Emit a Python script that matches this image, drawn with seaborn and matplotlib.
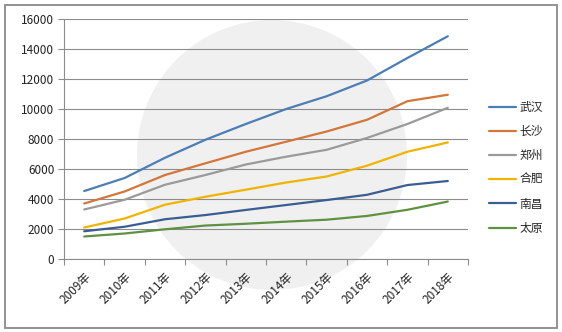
import matplotlib
matplotlib.use("Agg")
import matplotlib.pyplot as plt
import seaborn as sns
import pandas as pd
import numpy as np
from matplotlib.patches import Circle, Rectangle

years = ["2009年", "2010年", "2011年", "2012年", "2013年", "2014年", "2015年", "2016年", "2017年", "2018年"]
cities = ["武汉", "长沙", "郑州", "合肥", "南昌", "太原"]
wuhan = [4530, 5400, 6750, 7950, 9000, 10000, 10850, 11900, 13400, 14850]
changsha = [3700, 4500, 5600, 6380, 7150, 7820, 8500, 9280, 10520, 10950]
zhengzhou = [3300, 3950, 4950, 5600, 6300, 6820, 7280, 8070, 9000, 10080]
hefei = [2100, 2700, 3620, 4150, 4620, 5100, 5500, 6220, 7150, 7770]
nanchang = [1850, 2150, 2650, 2930, 3270, 3600, 3930, 4280, 4930, 5200]
taiyuan = [1500, 1700, 1980, 2230, 2350, 2490, 2620, 2870, 3280, 3830]
yticks = [0, 2000, 4000, 6000, 8000, 10000, 12000, 14000, 16000]

series = [wuhan, changsha, zhengzhou, hefei, nanchang, taiyuan]
colors = ["#4a7eb5", "#d4763a", "#9a9a9a", "#f0b400", "#3a5d92", "#5e9140"]

rows = []
for c, vals in zip(cities, series):
    for i, v in enumerate(vals):
        rows.append({"pos": i, "city": c, "value": v})
df = pd.DataFrame(rows)

sns.set_theme(style="white")
plt.rcParams["font.family"] = ["Noto Sans CJK SC", "DejaVu Sans"]

W, H = 562, 332
fig = plt.figure(figsize=(W / 100, H / 100), dpi=100)
fig.patch.set_facecolor("white")

# background layer: border and faint watermark disk (pixel coordinates)
bg = fig.add_axes([0, 0, 1, 1])
bg.set_xlim(0, W)
bg.set_ylim(H, 0)
bg.axis("off")
bg.set_zorder(-1)
bg.add_patch(Circle((272, 155), 135, facecolor="#f0f0f0", edgecolor="none"))
bg.add_patch(Rectangle((4.5, 5), 552.5, 323, fill=False, edgecolor="#8a8a8a", linewidth=1.3))

ax = fig.add_axes([64 / W, 1 - 259 / H, 404 / W, 240 / H])
ax.set_facecolor("none")

sns.lineplot(data=df, x="pos", y="value", hue="city", hue_order=cities,
             palette=colors, linewidth=1.6, ax=ax, legend=True, zorder=3)

ax.set_xlim(-0.5, 9.5)
ax.set_ylim(0, 16000)
ax.set_yticks(yticks)
ax.set_yticklabels([str(v) for v in yticks], fontsize=8.5, color="#222222")
ax.yaxis.grid(True, color="#8c8c8c", linewidth=0.8)
ax.xaxis.grid(False)
ax.set_axisbelow(True)
ax.tick_params(axis="y", which="major", direction="out", length=4, width=0.8,
               color="#8c8c8c", left=True, pad=3)

ax.set_xticks(range(len(years)))
ax.set_xticklabels(years, rotation=45, ha="right", va="top", rotation_mode="anchor",
                   fontsize=8.5, color="#222222")
ax.tick_params(axis="x", which="major", length=0, pad=8)
ax.set_xticks(np.arange(-0.5, 10, 1.0), minor=True)
ax.tick_params(axis="x", which="minor", direction="out", length=4, width=0.8,
               color="#8c8c8c", bottom=True)

ax.set_xlabel("")
ax.set_ylabel("")
for s in ["top", "right"]:
    ax.spines[s].set_visible(False)
for s in ["left", "bottom"]:
    ax.spines[s].set_color("#8c8c8c")
    ax.spines[s].set_linewidth(0.8)

handles, labels = ax.get_legend_handles_labels()
ax.legend(handles, labels, loc="upper left", bbox_to_anchor=(484 / W, 1 - 96 / H),
          bbox_transform=fig.transFigure, frameon=False, fontsize=8.5,
          handlelength=2.3, handletextpad=0.3, labelspacing=0.95, borderaxespad=0)

fig.savefig("out.png", dpi=100, facecolor="white")
